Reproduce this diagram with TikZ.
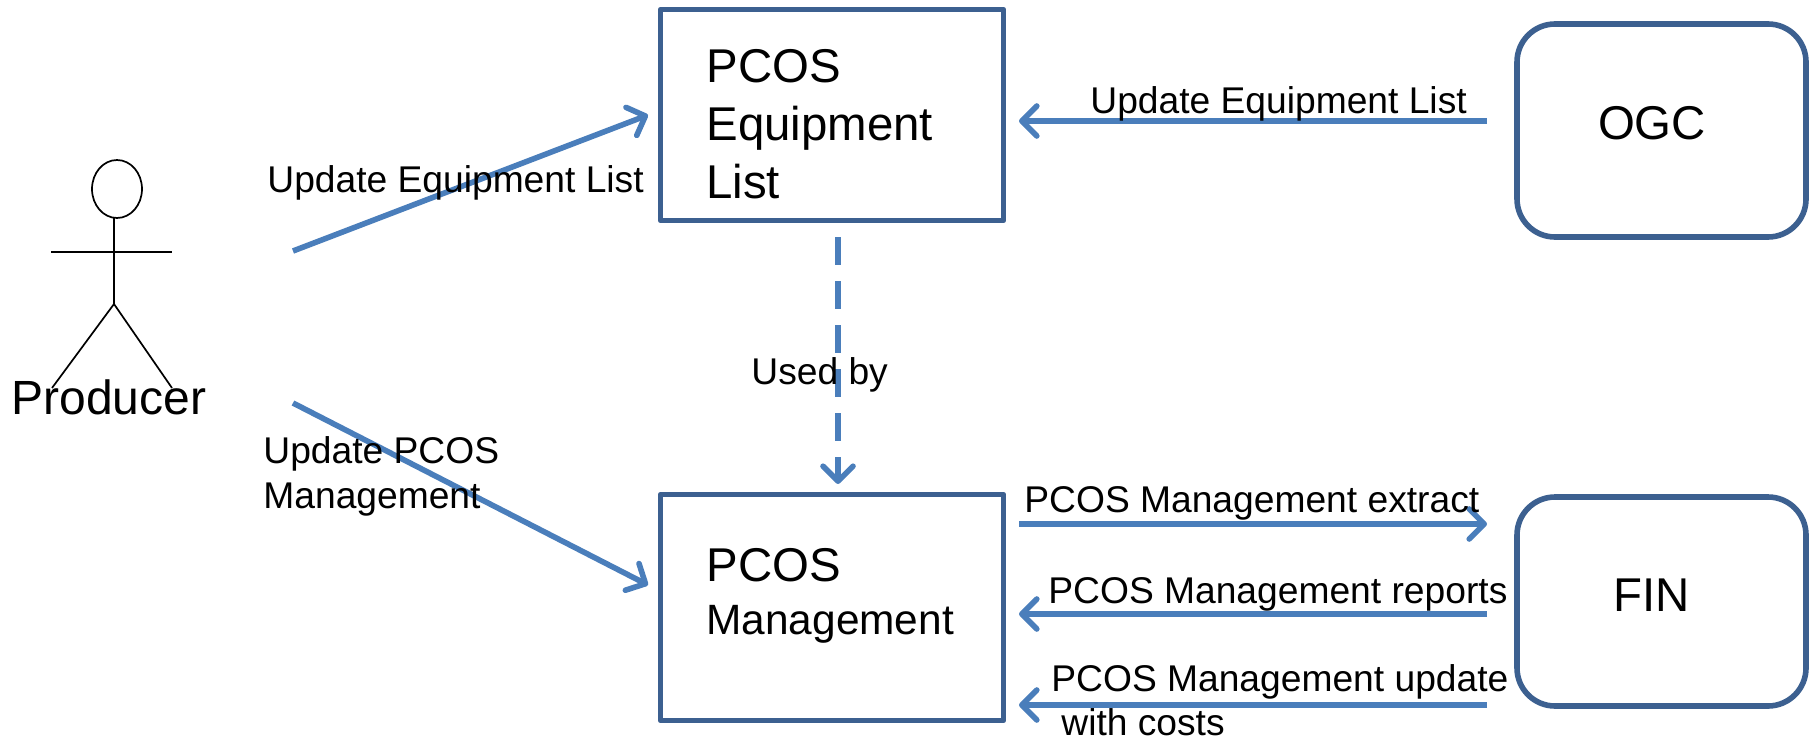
\documentclass[tikz,border=0pt]{standalone}
\usepackage{fontspec}
\setmainfont{Liberation Sans}
\usetikzlibrary{arrows.meta,shapes.geometric}
\definecolor{boxline}{HTML}{3C6090}
\definecolor{flow}{HTML}{4A7EBB}
\tikzset{
  x=0.5pt,y=-0.5pt,
  boxnode/.style={draw=boxline,line width=2.8pt,line join=round,minimum width=171.5pt,inner sep=0pt},
  roundnode/.style={draw=boxline,line width=2.8pt,rounded corners=19pt,minimum width=144.5pt,inner sep=0pt},
  flowarrow/.style={draw=flow,line width=2.8pt,-{Straight Barb[length=7.5pt,width=15pt,line cap=round,line join=round]}},
  lbl/.style={anchor=base west,inner sep=0pt,font=\fontsize{18.6}{22}\selectfont},
  big/.style={inner sep=0pt,font=\fontsize{23.7}{29}\selectfont},
  stick/.style={draw=black,line width=0.85pt},
}
\begin{document}
\begin{tikzpicture}
\useasboundingbox (0,0) rectangle (1814,738);
% boxes
\node[boxnode,minimum height=105.5pt] (equip) at (832,115) {};
\node[boxnode,minimum height=113pt] (mgmt) at (832,607.5) {};
\node[roundnode,minimum height=106.5pt] (ogc) at (1661.5,130.5) {};
\node[roundnode,minimum height=104.5pt] (fin) at (1661.5,601.5) {};
\node[big,anchor=base] (ogct) at (1652,140) {OGC};
\node[big,anchor=base] (fint) at (1652,611) {FIN};
\node[big,anchor=north west,align=left] (equipt) at (706,49) {PCOS\\Equipment\\List};
\node[big,anchor=base west] (mgmta) at (706,581) {PCOS};
\node[anchor=base west,inner sep=0pt,font=\fontsize{21.2}{25}\selectfont] (mgmtb) at (706,634) {Management};
% actor
\node[draw=black,line width=0.85pt,ellipse,minimum width=25pt,minimum height=29pt,inner sep=0pt] (head) at (117,189) {};
\coordinate (neck) at (114,218);
\coordinate (hip) at (114,304);
\coordinate (larm) at (51,252);
\coordinate (rarm) at (172,252);
\coordinate (lfoot) at (52,388);
\coordinate (rfoot) at (172,388);
\draw[stick] (neck) -- (hip) -- (lfoot);
\draw[stick] (hip) -- (rfoot);
\draw[stick] (larm) -- (rarm);
\node[anchor=base west,inner sep=0pt,font=\fontsize{24}{28}\selectfont] (prod) at (11,414) {Producer};
% connectors
\coordinate (a1s) at (293,251); \coordinate (a1e) at (648,115);
\coordinate (a2s) at (293,403); \coordinate (a2e) at (648,585);
\coordinate (a3s) at (1487,121); \coordinate (a3e) at (1019,121);
\coordinate (a4s) at (838,237); \coordinate (a4e) at (838,484);
\coordinate (a5s) at (1019,524); \coordinate (a5e) at (1487,524);
\coordinate (a6s) at (1487,614); \coordinate (a6e) at (1019,614);
\coordinate (a7s) at (1487,705); \coordinate (a7e) at (1019,705);
\draw[flowarrow] (a1s) -- (a1e);
\draw[flowarrow] (a2s) -- (a2e);
\draw[flowarrow] (a3s) -- (a3e);
\draw[flowarrow,dash pattern=on 14pt off 8pt] (a4s) -- (a4e);
\draw[flowarrow] (a5s) -- (a5e);
\draw[flowarrow] (a6s) -- (a6e);
\draw[flowarrow] (a7s) -- (a7e);
% labels
\node[lbl] (l1) at (267,192) {Update Equipment List};
\node[lbl] (l2a) at (263,463) {Update PCOS};
\node[lbl] (l2b) at (263,508) {Management};
\node[lbl] (l3) at (1090,113) {Update Equipment List};
\node[lbl] (l4) at (751,384) {Used by};
\node[lbl] (l5) at (1024,512) {PCOS Management extract};
\node[lbl] (l6) at (1048,603) {PCOS Management reports};
\node[lbl] (l7a) at (1051,691) {PCOS Management update};
\node[lbl] (l7b) at (1061,735) {with costs};
\end{tikzpicture}
\end{document}
